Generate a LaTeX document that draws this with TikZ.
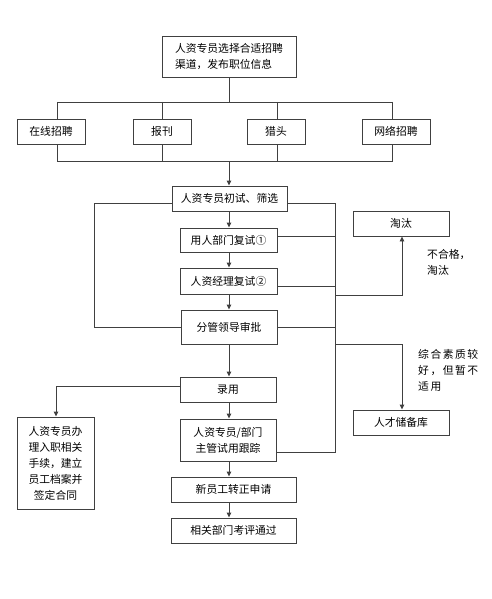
\documentclass[tikz,border=0pt]{standalone}
\usepackage{fontspec}
\setmainfont{Noto Sans CJK SC}
\usetikzlibrary{arrows.meta}
\begin{document}
\begin{tikzpicture}[x=1pt,y=-1pt,
  box/.style={draw=black!75,line width=0.9pt,fill=white,inner sep=0pt,font=\fontsize{10.8}{16}\selectfont,align=center},
  ln/.style={draw=black!75,line width=0.9pt},
  arr/.style={ln,-{Triangle[length=5pt,width=4.5pt]}},
  lbl/.style={font=\fontsize{10.8}{16}\selectfont,align=left,anchor=north west,inner sep=0pt},
  widelbl/.style={lbl,font=\fontsize{10.8}{16}\selectfont\addfontfeatures{LetterSpace=14}}]
\useasboundingbox (0,0) rectangle (491,599);
% boxes
\node[box,minimum width=134pt,minimum height=41pt,align=left] (top) at (229,56.5) {人资专员选择合适招聘\\渠道，发布职位信息};
\node[box,minimum width=68pt,minimum height=25pt] (b1) at (51,131.5) {在线招聘};
\node[box,minimum width=58pt,minimum height=25pt] (b2) at (162,131.5) {报刊};
\node[box,minimum width=58pt,minimum height=25pt] (b3) at (276,131.5) {猎头};
\node[box,minimum width=68pt,minimum height=25pt] (b4) at (396,131.5) {网络招聘};
\node[box,minimum width=115pt,minimum height=25pt] (s1) at (229.5,198.5) {人资专员初试、筛选};
\node[box,minimum width=97pt,minimum height=24pt] (s2) at (228.5,240) {用人部门复试①};
\node[box,minimum width=97pt,minimum height=26pt] (s3) at (228.5,281) {人资经理复试②};
\node[box,minimum width=96pt,minimum height=34pt] (s4) at (229,327) {分管领导审批};
\node[box,minimum width=96pt,minimum height=25pt] (tt) at (401,223.5) {淘汰};
\node[box,minimum width=96pt,minimum height=25pt] (hire) at (228,389.5) {录用};
\node[box,minimum width=77pt,minimum height=92pt] (lb) at (55.5,463) {人资专员办\\理入职相关\\手续，建立\\员工档案并\\签定合同};
\node[box,minimum width=96pt,minimum height=42pt] (track) at (228,440) {人资专员/部门\\主管试用跟踪};
\node[box,minimum width=125pt,minimum height=25pt] (new) at (233.5,489.5) {新员工转正申请};
\node[box,minimum width=125pt,minimum height=25pt] (eval) at (233.5,530.5) {相关部门考评通过};
\node[box,minimum width=96pt,minimum height=25pt] (pool) at (401,422.5) {人才储备库};
% labels
\node[lbl] (l1) at (427,249) {不合格，\\淘汰};
\node[widelbl] (l2) at (418,349) {综合素质较\\好，但暂不\\适用};
% coordinates
\coordinate (busA) at (229,102);
\coordinate (busB) at (229,161);
\coordinate (xa1) at (57,0);
\coordinate (xa2) at (162,0);
\coordinate (xa3) at (277,0);
\coordinate (xa4) at (392,0);
\coordinate (yA) at (0,102);
\coordinate (yB) at (0,161);
\coordinate (y203) at (0,203);
\coordinate (xL) at (94,0);
\coordinate (xR) at (335,0);
\coordinate (xT) at (402,0);
\coordinate (y236) at (0,236);
\coordinate (y286) at (0,286);
\coordinate (y295) at (0,295);
\coordinate (y327) at (0,327);
\coordinate (y344) at (0,344);
\coordinate (y386) at (0,386);
\coordinate (y452) at (0,452);
\coordinate (xH) at (56,0);
% top bus
\draw[ln] (top.south) -- (busA);
\draw[ln] (xa1 |- yA) -- (xa4 |- yA);
\draw[ln] (xa1 |- yA) -- (xa1 |- b1.north);
\draw[ln] (xa2 |- yA) -- (xa2 |- b2.north);
\draw[ln] (xa3 |- yA) -- (xa3 |- b3.north);
\draw[ln] (xa4 |- yA) -- (xa4 |- b4.north);
\draw[ln] (xa1 |- b1.south) -- (xa1 |- yB) -- (xa4 |- yB) -- (xa4 |- b4.south);
\draw[ln] (xa2 |- b2.south) -- (xa2 |- yB);
\draw[ln] (xa3 |- b3.south) -- (xa3 |- yB);
\draw[arr] (busB) -- (busB |- s1.north);
% main chain
\draw[arr] (busB |- s1.south) -- (busB |- s2.north);
\draw[arr] (busB |- s2.south) -- (busB |- s3.north);
\draw[arr] (busB |- s3.south) -- (busB |- s4.north);
\draw[arr] (busB |- s4.south) -- (busB |- hire.north);
\draw[arr] (busB |- hire.south) -- (busB |- track.north);
\draw[arr] (busB |- track.south) -- (busB |- new.north);
\draw[arr] (busB |- new.south) -- (busB |- eval.north);
% left loop
\draw[ln] (s1.west |- y203) -- (xL |- y203) -- (xL |- y327) -- (s4.west |- y327);
% right trunk
\draw[ln] (s1.east |- y203) -- (xR |- y203) -- (xR |- y452) -- (track.east |- y452);
\draw[ln] (s2.east |- y236) -- (xR |- y236);
\draw[ln] (s3.east |- y286) -- (xR |- y286);
\draw[ln] (s4.east |- y327) -- (xR |- y327);
\draw[arr] (xR |- y295) -- (xT |- y295) -- (xT |- tt.south);
\draw[arr] (xR |- y344) -- (xT |- y344) -- (xT |- pool.north);
% hire to left box
\draw[arr] (hire.west |- y386) -- (xH |- y386) -- (xH |- lb.north);
\end{tikzpicture}
\end{document}
